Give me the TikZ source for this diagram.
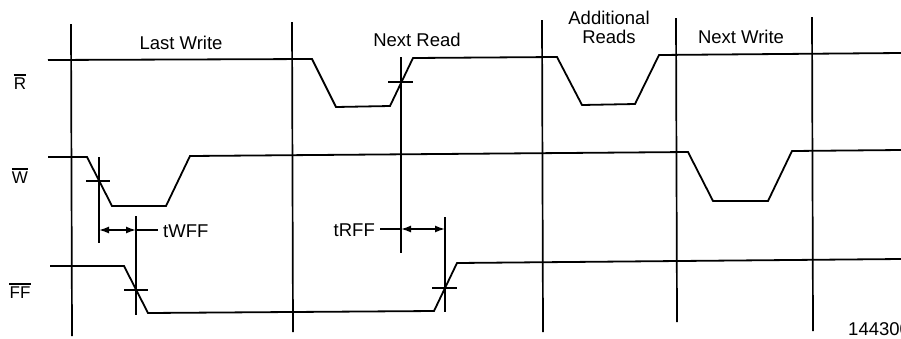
\documentclass[tikz,border=0pt]{standalone}
\usepackage{fontspec}
\setmainfont{Liberation Sans}
\usetikzlibrary{arrows.meta}
\begin{document}
\begin{tikzpicture}[x=1pt,y=-1pt,
  sig/.style={line width=1.8pt, line join=miter},
  grid/.style={line width=1.7pt},
  tick/.style={line width=1.5pt},
  bar/.style={line width=1.3pt},
  dim/.style={line width=1.5pt, {Latex[length=10pt,width=7pt]}-{Latex[length=10pt,width=7pt]}},
  lbl/.style={inner sep=0pt, font=\fontsize{18.5}{21}\selectfont},
  sl/.style={inner sep=0pt, font=\fontsize{17}{20}\selectfont}]
\useasboundingbox (0,0) rectangle (901,338);
% vertical dividers
\draw[grid] (71,24) -- (72,336);
\draw[grid] (292,22) -- (293,332);
\draw[grid] (542,20) -- (543,332);
\draw[grid] (676,18) -- (677,322);
\draw[grid] (812,17) -- (813,331);
% phase labels
\node[lbl] (lw) at (181,43) {Last Write};
\node[lbl] (nr) at (417,40) {Next Read};
\node[lbl, align=center] (ar) at (609,27) {Additional\\[-2pt]Reads};
\node[lbl] (nw) at (741,37) {Next Write};
% signal names with bars
\node[sl] (lr) at (20,84) {R};
\node[sl] (lwn) at (20,178) {W};
\node[sl] (lff) at (20,293) {FF};
\draw[bar] ([yshift=3pt]lr.north west) -- ([yshift=3pt]lr.north east);
\draw[bar] ([yshift=3pt]lwn.north west) -- ([yshift=3pt]lwn.north east);
\draw[bar] ([yshift=3pt]lff.north west) -- ([yshift=3pt]lff.north east);
% R signal
\draw[sig] (48,60) -- (312,59) -- (336,107) -- (390,106) -- (413,58) -- (557,57) -- (582,105) -- (635,104) -- (659,55) -- (901,53);
% W signal
\draw[sig] (48,157) -- (87,157) -- (112,206) -- (166,206) -- (190,156) -- (688,152) -- (713,201) -- (768,201) -- (792,151) -- (901,150);
% FF signal
\draw[sig] (50,266) -- (124,266) -- (148,313) -- (434,311) -- (457,263) -- (901,259);
% reference marks
\draw[tick] (86,181) -- (110,181);
\draw[tick] (99,157) -- (99,243);
\draw[tick] (124,290) -- (148,290);
\draw[tick] (136,216) -- (136,315);
\draw[tick] (388,82) -- (413,82);
\draw[tick] (401,57) -- (401,253);
\draw[tick] (432,288) -- (457,288);
\draw[tick] (445,217) -- (445,312);
% tWFF
\coordinate (a1) at (99,230);
\coordinate (a2) at (136,230);
\coordinate (a3) at (158,230);
\draw[dim] (a1) -- (a2);
\draw[tick] (a2) -- (a3);
\node[lbl, anchor=west] (twff) at (163,231) {tWFF};
% tRFF
\coordinate (b1) at (401,229);
\coordinate (b2) at (445,229);
\coordinate (b0) at (380,229);
\draw[dim] (b1) -- (b2);
\draw[tick] (b0) -- (b1);
\node[lbl, anchor=east] (trff) at (375,230) {tRFF};
% figure number
\node[lbl, anchor=west] (fig) at (848,329) {144300};
\end{tikzpicture}
\end{document}
